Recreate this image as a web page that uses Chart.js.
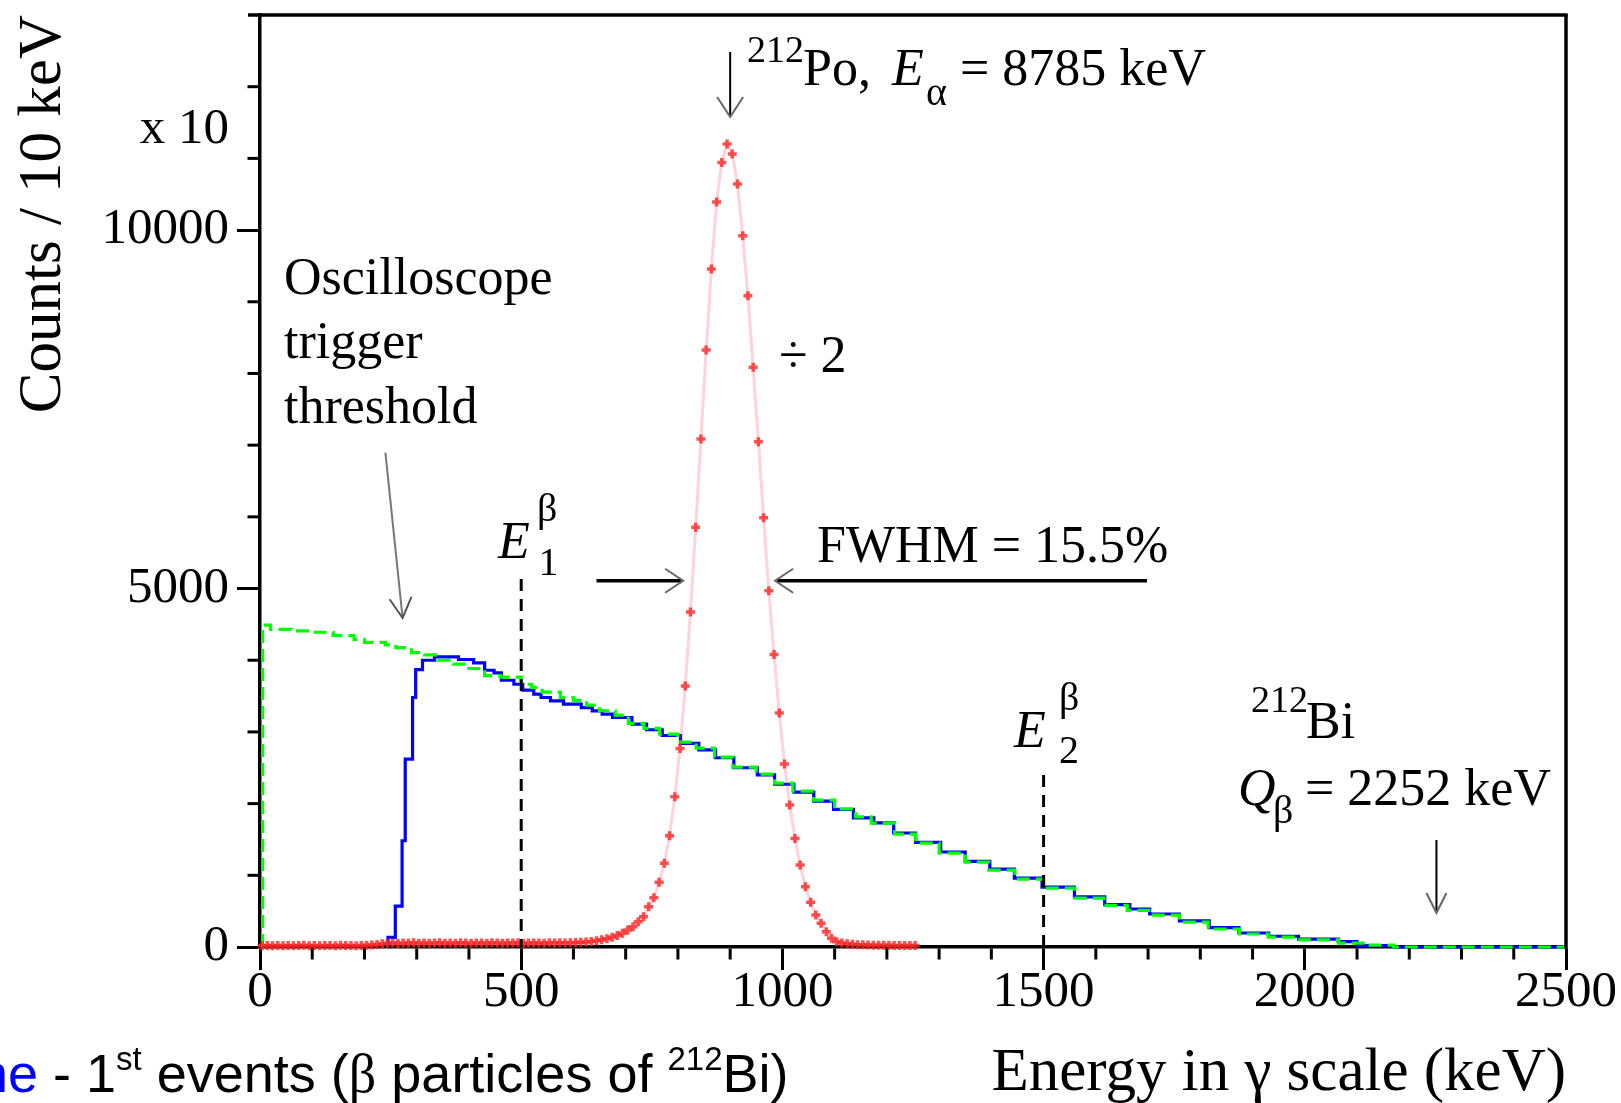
<!DOCTYPE html>
<html>
<head>
<meta charset="utf-8">
<script src="https://cdn.jsdelivr.net/npm/chart.js@4.4.1/dist/chart.umd.min.js"></script>
<style>
html,body{margin:0;padding:0;background:#fff;overflow:hidden;}
#wrap{width:1621px;height:1103px;position:relative;}
</style>
</head>
<body>
<div id="wrap"><canvas id="c"></canvas></div>
<script>
// ---------------- data ----------------
const xTickLabels = [0, 500, 1000, 1500, 2000, 2500];
const yTickLabels = [0, 5000, 10000];

// green dashed histogram: bin left edges (keV) and counts
const greenEdges = [5, 5, 20, 60, 100, 140, 180, 200, 240, 260, 290, 315, 340, 370, 400, 430, 460, 500, 520, 540, 575, 600, 625, 650, 680, 705, 735, 765, 800, 835, 870, 905, 950, 985, 1020, 1060, 1100, 1140, 1170, 1215, 1255, 1300, 1350, 1395, 1445, 1500, 1560, 1615, 1660, 1705, 1760, 1815, 1875, 1930, 1990, 2065, 2120, 2170];
const greenCounts = [0, 4490, 4430, 4410, 4390, 4345, 4290, 4250, 4215, 4175, 4105, 4075, 4000, 3945, 3885, 3785, 3765, 3665, 3620, 3555, 3480, 3440, 3375, 3295, 3235, 3120, 3050, 2970, 2857, 2773, 2648, 2509, 2411, 2286, 2174, 2049, 1925, 1816, 1728, 1575, 1450, 1310, 1185, 1073, 948, 822, 683, 580, 510, 446, 348, 251, 181, 139, 98, 55, 25, 0];

// blue histogram (1st events)
const blueEdges = [245, 245, 259, 272, 278, 292, 298, 311, 334, 380, 409, 430, 448, 462, 486, 503, 524, 538, 556, 581, 615, 636, 655, 675, 712, 740, 770, 805, 840, 872, 907, 952, 985, 1022, 1060, 1098, 1136, 1175, 1213, 1255, 1303, 1350, 1397, 1444, 1497, 1559, 1617, 1665, 1703, 1760, 1817, 1874, 1931, 1988, 2064, 2100, 2170];
const blueCounts = [0, 135, 571, 1482, 2620, 3480, 3870, 4000, 4046, 4010, 3963, 3860, 3823, 3721, 3665, 3582, 3526, 3480, 3433, 3387, 3340, 3293, 3247, 3201, 3110, 3030, 2950, 2840, 2750, 2640, 2500, 2400, 2270, 2160, 2035, 1920, 1800, 1730, 1590, 1460, 1325, 1195, 1085, 960, 835, 700, 590, 530, 460, 365, 270, 195, 150, 110, 75, 20, 0];

const histEnd = 2500;

// red 212Po alpha peak (divided by 2): energies (keV) and counts
const redEnergies = [4,14,24,34,44,54,64,74,84,94,
  104,114,124,134,144,154,164,174,184,194,
  204,214,224,234,244,254,264,274,284,294,
  304,314,324,334,344,354,364,374,384,394,
  404,414,424,434,444,454,464,474,484,494,
  504,514,524,534,544,554,564,574,584,594,
  604,614,624,634,644,654,664,674,684,694,
  704,714,724,734,744,754,764,774,784,794,
  804,814,824,834,844,854,864,874,884,894,
  904,914,924,934,944,954,964,974,984,994,
  1004,1014,1024,1034,1044,1054,1064,1074,1084,1094,
  1104,1114,1124,1134,1144,1154,1164,1174,1184,1194,
  1204,1214,1224,1234,1244,1254];
const redCounts = [18,20,17,22,19,21,18,20,23,19,
  21,18,22,20,19,23,20,21,18,22,
  24,28,35,45,52,55,50,56,53,58,
  54,57,52,55,59,53,56,54,58,55,
  52,57,55,53,58,56,54,57,55,58,
  53,56,55,57,54,58,56,59,57,60,
  62,65,70,78,88,100,115,135,160,191,
  237,283,353,422,562,687,902,1167,1551,2095,
  2769,3642,4673,5854,7085,8326,9456,10391,10944,11199,
  11060,10642,9921,9084,8085,7048,5988,4969,4079,3265,
  2551,1979,1515,1143,840,623,446,330,213,121,
  74,55,45,38,33,30,28,26,25,24,
  23,22,22,21,21,20];

// ---------------- build library data ----------------
function stepPoints(edges, counts, end) {
  const pts = edges.map((e, i) => ({x: e, y: counts[i]}));
  pts.push({x: end, y: counts[counts.length - 1]});
  return pts;
}
const greenData = stepPoints(greenEdges, greenCounts, histEnd);
const blueData = stepPoints(blueEdges, blueCounts, histEnd);
const redData = redEnergies.map((e, i) => ({x: e, y: redCounts[i]}));

const SERIF = '"Liberation Serif", "Times New Roman", serif';
const SANS = '"Liberation Sans", Arial, sans-serif';

// ---------------- annotation plugin ----------------
function arrowHead(ctx, tx, ty, dx, dy, len, half, color, w) {
  const px = -dy, py = dx;
  ctx.beginPath();
  ctx.moveTo(tx - dx * len + px * half, ty - dy * len + py * half);
  ctx.lineTo(tx, ty);
  ctx.lineTo(tx - dx * len - px * half, ty - dy * len - py * half);
  ctx.strokeStyle = color; ctx.lineWidth = w; ctx.setLineDash([]);
  ctx.stroke();
}
function seg(ctx, x1, y1, x2, y2, color, w, dash) {
  ctx.beginPath(); ctx.moveTo(x1, y1); ctx.lineTo(x2, y2);
  ctx.strokeStyle = color; ctx.lineWidth = w; ctx.setLineDash(dash || []);
  ctx.stroke(); ctx.setLineDash([]);
}
function txt(ctx, s, x, y, font, color, align) {
  ctx.font = font; ctx.fillStyle = color || '#000';
  ctx.textAlign = align || 'left'; ctx.textBaseline = 'alphabetic';
  ctx.fillText(s, x, y);
}
function runs(ctx, list, x, y) {
  let cx = x;
  list.forEach(r => {
    ctx.font = r.f; ctx.fillStyle = r.c || '#000';
    ctx.textAlign = 'left'; ctx.textBaseline = 'alphabetic';
    ctx.fillText(r.t, cx, y + (r.dy || 0));
    cx += ctx.measureText(r.t).width;
  });
}

const annot = {
  id: 'annot',
  afterDraw(chart) {
    const {ctx, chartArea: ca, scales: {x, y}} = chart;
    const X = v => x.getPixelForValue(v);
    const Y = v => y.getPixelForValue(v);
    ctx.save();
    ctx.lineCap = 'butt';
    // frame (top and right)
    seg(ctx, ca.left - 12, ca.top, ca.right + 1.75, ca.top, '#000', 3.5);
    seg(ctx, ca.right, ca.top, ca.right, ca.bottom + 1.75, '#000', 3.5);
    // minor ticks
    for (let v = 100; v < 2500; v += 100) {
      if (v % 500 === 0) continue;
      seg(ctx, X(v), ca.bottom + 1.5, X(v), ca.bottom + 12.5, '#000', 3);
    }
    for (let v = 1000; v < 13000; v += 1000) {
      if (v % 5000 === 0) continue;
      seg(ctx, ca.left - 1.5, Y(v), ca.left - 12.5, Y(v), '#000', 3);
    }

    const F = (s, st) => (st ? st + ' ' : '') + s + 'px ' + SERIF;

    // "x 10" multiplier
    txt(ctx, 'x 10', ca.left - 31, 143, F(51), '#000', 'right');

    // 212Po label and arrow
    txt(ctx, '212', 747, 62, F(38));
    txt(ctx, 'Po,', 803, 85, F(52));
    txt(ctx, 'E', 892, 85, F(52, 'italic'));
    txt(ctx, 'α', 926, 105, F(40));
    txt(ctx, '= 8785 keV', 960, 85, F(52));
    seg(ctx, X(900), 52, X(900), 116, '#000', 2);
    arrowHead(ctx, X(900), 117, 0, 1, 20, 13, '#666', 2);

    // ÷ 2
    txt(ctx, '÷ 2', 779, 372, F(52));

    // Oscilloscope trigger threshold
    txt(ctx, 'Oscilloscope', 284, 294, F(52));
    txt(ctx, 'trigger', 284, 358, F(52));
    txt(ctx, 'threshold', 284, 423, F(52));
    {
      const x1 = 385.4, y1 = 452.7, x2 = 402.6, y2 = 618;
      const L = Math.hypot(x2 - x1, y2 - y1), dx = (x2 - x1) / L, dy = (y2 - y1) / L;
      seg(ctx, x1, y1, x2, y2, '#777', 2);
      arrowHead(ctx, x2, y2, dx, dy, 20, 11, '#555', 2);
    }

    // E1 beta
    txt(ctx, 'E', 498, 558, F(52, 'italic'));
    txt(ctx, 'β', 537, 521, F(40));
    txt(ctx, '1', 538.5, 575, F(40));
    seg(ctx, X(500), 579, X(500), ca.bottom, '#000', 3, [12, 8]);

    // FWHM
    const yF = Y(5109);
    seg(ctx, 596.5, yF, X(810) - 2, yF, '#000', 3.5);
    arrowHead(ctx, X(810), yF, 1, 0, 18, 12, '#666', 2);
    seg(ctx, X(986) + 2, yF, 1147, yF, '#000', 3.5);
    arrowHead(ctx, X(986), yF, -1, 0, 18, 12, '#666', 2);
    txt(ctx, 'FWHM = 15.5%', 817, 562, F(52));

    // E2 beta
    txt(ctx, 'E', 1014, 747, F(52, 'italic'));
    txt(ctx, 'β', 1059, 710, F(40));
    txt(ctx, '2', 1059, 763, F(40));
    seg(ctx, X(1500), 775, X(1500), ca.bottom, '#000', 3, [12, 8]);

    // 212Bi Q value
    txt(ctx, '212', 1251, 712, F(38));
    txt(ctx, 'Bi', 1306, 738, F(52));
    txt(ctx, 'Q', 1238, 805, F(52, 'italic'));
    txt(ctx, 'β', 1273, 823, F(40));
    txt(ctx, '= 2252 keV', 1305, 805, F(52));
    seg(ctx, X(2252), 840, X(2252), 912, '#000', 2);
    arrowHead(ctx, X(2252), 913, 0, 1, 20, 10, '#666', 2);

    // bottom-left caption (cropped slide text)
    const S = s => s + 'px ' + SANS;
    runs(ctx, [
      {t: 'ne', f: S(54), c: '#0000ff'},
      {t: ' - 1', f: S(54)},
      {t: 'st', f: S(33), dy: -22},
      {t: ' events (', f: S(54)},
      {t: 'β', f: '54px ' + SERIF},
      {t: ' particles of ', f: S(54)},
      {t: '212', f: S(33), dy: -22},
      {t: 'Bi)', f: S(54)}
    ], -22, 1092);
    ctx.restore();
  }
};

// ---------------- chart ----------------
new Chart(document.getElementById('c'), {
  type: 'line',
  data: {
    datasets: [
      {
        label: '212Po alpha',
        data: redData,
        order: 0,
        borderColor: 'rgba(255,60,80,0.22)',
        borderWidth: 3,
        pointStyle: 'cross',
        pointRadius: 4.5,
        pointBorderWidth: 3.5,
        pointBorderColor: 'rgba(255,35,35,0.8)',
        pointBackgroundColor: 'rgba(255,35,35,0.8)',
        tension: 0,
        clip: 6
      },
      {
        label: 'calculated',
        data: greenData,
        order: 1,
        borderColor: '#00ff00',
        borderWidth: 3.2,
        borderDash: [13, 6],
        stepped: 'before',
        pointRadius: 0,
        clip: 4
      },
      {
        label: '1st events',
        data: blueData,
        order: 2,
        borderColor: '#0000ff',
        borderWidth: 3.2,
        stepped: 'before',
        pointRadius: 0,
        clip: 4
      }
    ]
  },
  options: {
    responsive: true,
    maintainAspectRatio: false,
    animation: false,
    events: [],
    layout: {padding: {left: 0, right: 55, top: 15, bottom: 0}},
    plugins: {legend: {display: false}, tooltip: {enabled: false}},
    scales: {
      x: {
        type: 'linear',
        position: 'bottom',
        min: 0, max: 2500,
        afterBuildTicks: s => { s.ticks = xTickLabels.map(v => ({value: v})); },
        ticks: {
          autoSkip: false, maxRotation: 0, minRotation: 0,
          padding: -3, color: '#000',
          font: {family: SERIF, size: 51, lineHeight: 1},
          callback: v => String(v)
        },
        grid: {drawOnChartArea: false, tickLength: 23, tickWidth: 3, tickColor: '#000'},
        border: {color: '#000', width: 3.5},
        title: {
          display: true, text: 'Energy in γ scale (keV)', align: 'end', color: '#000',
          font: {family: SERIF, size: 61, lineHeight: 1}, padding: {top: 0, bottom: -1}
        },
        afterFit: s => { s.height = 156; s.paddingLeft = 0; s.paddingRight = 0; }
      },
      y: {
        type: 'linear',
        position: 'left',
        min: 0, max: 13000,
        afterBuildTicks: s => { s.ticks = yTickLabels.map(v => ({value: v})); },
        ticks: {
          autoSkip: false,
          padding: 8, color: '#000',
          font: {family: SERIF, size: 51, lineHeight: 1},
          callback: v => String(v)
        },
        grid: {drawOnChartArea: false, tickLength: 23, tickWidth: 3, tickColor: '#000'},
        border: {color: '#000', width: 3.5},
        title: {
          display: true, text: 'Counts / 10 keV', align: 'end', color: '#000',
          font: {family: SERIF, size: 61, lineHeight: 1}, padding: {top: 13, bottom: 0}
        },
        afterFit: s => { s.width = 260; s.paddingTop = 0; s.paddingBottom = 0; }
      }
    }
  },
  plugins: [annot]
});
</script>
</body>
</html>
